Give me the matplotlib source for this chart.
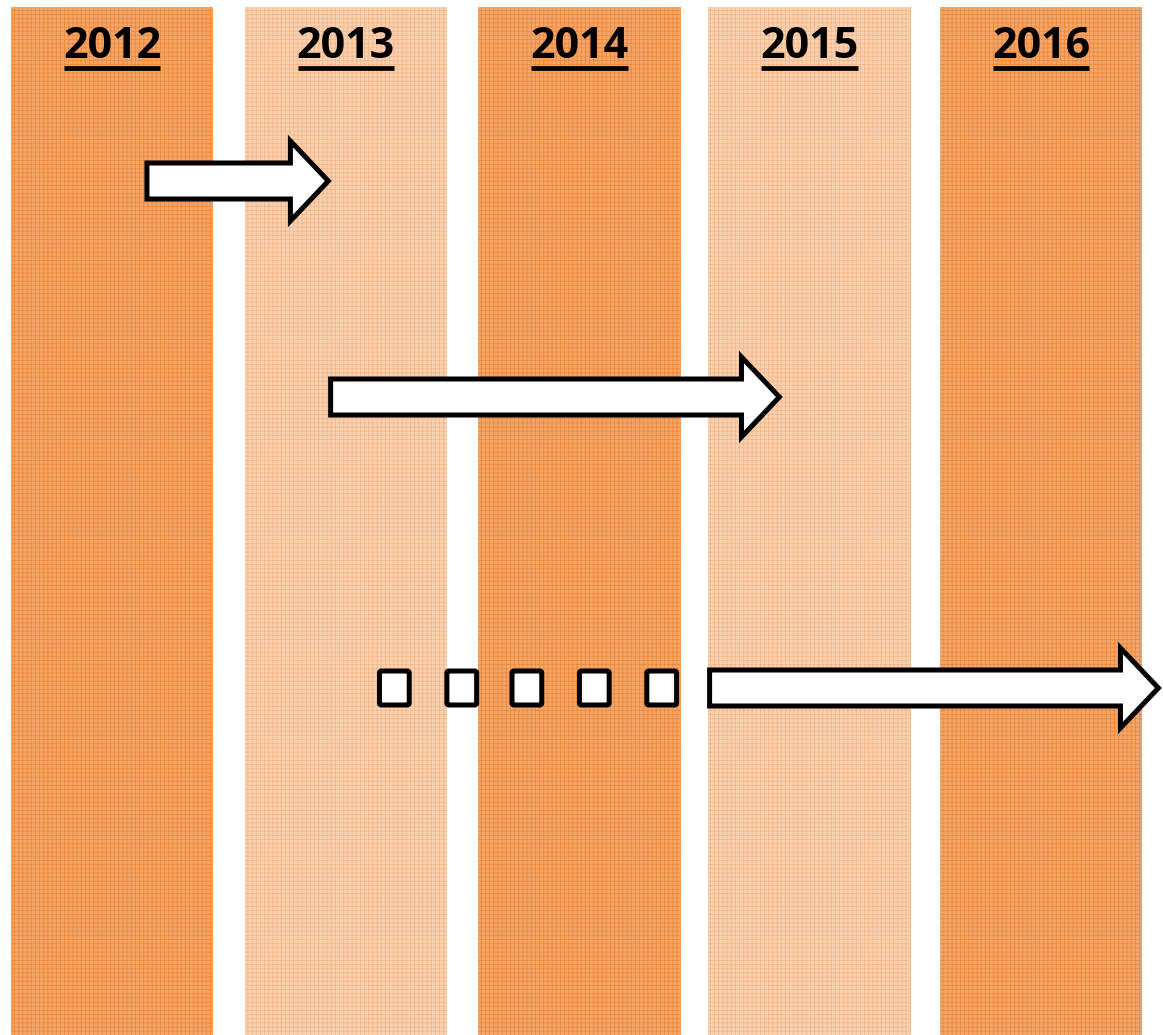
import matplotlib.pyplot as plt
import numpy as np
from matplotlib.patches import Polygon, Rectangle, FancyBboxPatch

# columns (years) and shading
years = [2012, 2013, 2014, 2015, 2016]
shade = ['dark', 'light', 'dark', 'light', 'dark']

# arrows: start year, end year (tip), lane
arrow_start = [2012.15, 2012.94, 2014.57]
arrow_end = [2012.93, 2014.87, 2016.50]
arrow_lane = [181, 397, 688]

# dashed lead-in squares for the last arrow
square_start = [2013.15, 2013.44, 2013.72, 2014.01, 2014.30]
square_lane = 688

dark_face, dark_hatch = '#F3A56A', '#EE8A3C'
light_face, light_hatch = '#F9D2B3', '#F6B889'

plt.rcParams['hatch.linewidth'] = 0.6
fig = plt.figure(figsize=(11.63, 10.35), dpi=100)
ax = fig.add_axes([0, 0, 1, 1])
ax.set_xlim(2011.518, 2016.52)
ax.set_ylim(1035, 0)
ax.axis('off')

col_w = 0.87
col_x = [2012, 2013.005, 2014.01, 2015.0, 2015.995]
for yr, cx, s in zip(years, col_x, shade):
    face, hc = (dark_face, dark_hatch) if s == 'dark' else (light_face, light_hatch)
    r = Rectangle((cx - col_w / 2, 7), col_w, 1040, facecolor=face,
                  edgecolor=hc, hatch='++++', linewidth=0, zorder=1)
    ax.add_patch(r)
    ax.text(cx, 47, str(yr), ha='center', va='center', fontsize=31,
            fontweight='bold', family='Open Sans', zorder=3)
    ax.plot([cx - 0.207, cx + 0.207], [68, 68], color='black', lw=3.4,
            solid_capstyle='butt', zorder=3)

body_h, head_h, head_len = 36, 80, 0.163
for x0, x1, y in zip(arrow_start, arrow_end, arrow_lane):
    xb = x1 - head_len
    pts = [(x0, y - body_h / 2), (xb, y - body_h / 2), (xb, y - head_h / 2),
           (x1, y), (xb, y + head_h / 2), (xb, y + body_h / 2), (x0, y + body_h / 2)]
    ax.add_patch(Polygon(pts, closed=True, facecolor='white', edgecolor='black',
                         linewidth=3.6, joinstyle='miter', zorder=4))

sq_w = 0.128
for xs in square_start:
    ax.add_patch(FancyBboxPatch((xs, square_lane - 17), sq_w, 34,
                                boxstyle='round,pad=0,rounding_size=0.01',
                                mutation_aspect=200,
                                facecolor='white', edgecolor='black',
                                linewidth=3.6, zorder=4))

fig.savefig('out.png', dpi=100)
